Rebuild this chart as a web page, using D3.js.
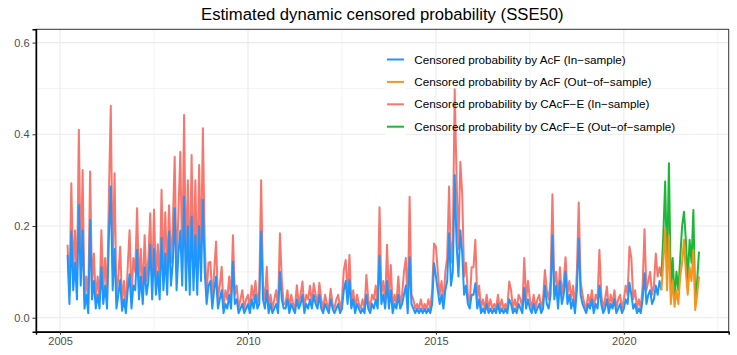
<!DOCTYPE html>
<html>
<head>
<meta charset="utf-8">
<script src="https://cdn.jsdelivr.net/npm/d3@7"></script>
<style>
  body { margin: 0; background: #fff; }
  text { font-family: "Liberation Sans", Arial, sans-serif; }
</style>
</head>
<body>
<svg id="chart" width="737" height="355"></svg>
<script>
// in-sample: 2005.20 .. 2021.00, one value every 0.05 year (one row per year)
const inStart = 2005.2;
const outStart = 2021.0;
const step = 0.05;

const acfIn = [
  0.137, 0.03, 0.188, 0.06, 0.12, 0.04, 0.246, 0.07, 0.19, 0.02, 0.05, 0.01, 0.213, 0.04, 0.08, 0.02,
  0.05, 0.02, 0.11, 0.03, 0.07, 0.02, 0.177, 0.286, 0.06, 0.15, 0.02, 0.05, 0.082, 0.015, 0.04, 0.01, 0.06, 0.095, 0.02, 0.07,
  0.06, 0.148, 0.04, 0.09, 0.03, 0.11, 0.05, 0.08, 0.159, 0.04, 0.15, 0.05, 0.10, 0.04, 0.174, 0.06, 0.14, 0.05, 0.188, 0.07,
  0.12, 0.239, 0.06, 0.14, 0.19, 0.07, 0.264, 0.06, 0.20, 0.05, 0.22, 0.06, 0.18, 0.05, 0.20, 0.08, 0.257, 0.10, 0.03, 0.07,
  0.08, 0.02, 0.06, 0.09, 0.02, 0.04, 0.06, 0.01, 0.03, 0.02, 0.05, 0.02, 0.122, 0.03, 0.04, 0.01, 0.02, 0.03, 0.01, 0.02,
  0.03, 0.01, 0.04, 0.02, 0.05, 0.02, 0.03, 0.188, 0.04, 0.02, 0.06, 0.01, 0.03, 0.01, 0.02, 0.03, 0.01, 0.10, 0.04, 0.02,
  0.02, 0.04, 0.01, 0.03, 0.02, 0.01, 0.04, 0.02, 0.03, 0.05, 0.01, 0.03, 0.02, 0.04, 0.02, 0.05, 0.03, 0.02, 0.05, 0.02,
  0.01, 0.03, 0.02, 0.01, 0.04, 0.02, 0.01, 0.02, 0.03, 0.01, 0.02, 0.06, 0.08, 0.03, 0.082, 0.02, 0.04, 0.01, 0.03, 0.02,
  0.01, 0.02, 0.01, 0.05, 0.02, 0.01, 0.03, 0.02, 0.04, 0.02, 0.135, 0.03, 0.05, 0.02, 0.08, 0.02, 0.06, 0.01, 0.03, 0.02,
  0.05, 0.02, 0.03, 0.05, 0.07, 0.01, 0.132, 0.03, 0.02, 0.01, 0.02, 0.01, 0.02, 0.01, 0.02, 0.01, 0.02, 0.01, 0.03, 0.119,
  0.09, 0.06, 0.03, 0.05, 0.02, 0.06, 0.08, 0.184, 0.07, 0.10, 0.311, 0.16, 0.09, 0.191, 0.14, 0.05, 0.07, 0.03, 0.02, 0.05,
  0.05, 0.075, 0.02, 0.04, 0.01, 0.02, 0.01, 0.03, 0.01, 0.02, 0.01, 0.02, 0.01, 0.03, 0.01, 0.02, 0.01, 0.02, 0.01, 0.04,
  0.03, 0.01, 0.02, 0.01, 0.03, 0.02, 0.01, 0.065, 0.02, 0.04, 0.02, 0.01, 0.03, 0.01, 0.02, 0.03, 0.01, 0.02, 0.07, 0.03,
  0.02, 0.05, 0.18, 0.04, 0.07, 0.02, 0.08, 0.03, 0.05, 0.10, 0.03, 0.05, 0.02, 0.04, 0.01, 0.06, 0.173, 0.05, 0.03, 0.02,
  0.01, 0.03, 0.02, 0.04, 0.01, 0.03, 0.02, 0.07, 0.03, 0.01, 0.02, 0.04, 0.01, 0.03, 0.02, 0.04, 0.01, 0.02, 0.03, 0.01,
  0.02, 0.04, 0.03, 0.076, 0.05, 0.02, 0.03, 0.01, 0.02, 0.01, 0.04, 0.097, 0.03, 0.05, 0.06, 0.03, 0.04, 0.07, 0.05, 0.08,
  0.06
];

const cacfeIn = [
  0.159, 0.05, 0.293, 0.10, 0.19, 0.07, 0.41, 0.11, 0.322, 0.04, 0.09, 0.03, 0.319, 0.07, 0.14, 0.04,
  0.09, 0.04, 0.191, 0.06, 0.13, 0.04, 0.268, 0.462, 0.11, 0.315, 0.04, 0.09, 0.155, 0.03, 0.08, 0.02, 0.11, 0.191, 0.04, 0.13,
  0.10, 0.239, 0.07, 0.15, 0.05, 0.18, 0.08, 0.13, 0.228, 0.07, 0.236, 0.08, 0.16, 0.07, 0.279, 0.10, 0.23, 0.09, 0.245, 0.12,
  0.20, 0.351, 0.10, 0.23, 0.362, 0.11, 0.442, 0.10, 0.30, 0.08, 0.355, 0.10, 0.30, 0.08, 0.333, 0.13, 0.413, 0.16, 0.05, 0.12,
  0.122, 0.04, 0.10, 0.166, 0.04, 0.07, 0.111, 0.02, 0.06, 0.04, 0.09, 0.04, 0.18, 0.05, 0.07, 0.02, 0.04, 0.06, 0.02, 0.04,
  0.05, 0.02, 0.07, 0.04, 0.08, 0.03, 0.06, 0.30, 0.07, 0.04, 0.111, 0.02, 0.05, 0.02, 0.04, 0.06, 0.02, 0.184, 0.08, 0.03,
  0.03, 0.06, 0.02, 0.05, 0.03, 0.02, 0.071, 0.03, 0.05, 0.079, 0.02, 0.05, 0.04, 0.07, 0.03, 0.075, 0.05, 0.03, 0.076, 0.04,
  0.02, 0.05, 0.03, 0.02, 0.063, 0.03, 0.02, 0.04, 0.05, 0.02, 0.04, 0.104, 0.126, 0.05, 0.137, 0.03, 0.06, 0.02, 0.05, 0.03,
  0.02, 0.04, 0.02, 0.093, 0.04, 0.02, 0.05, 0.04, 0.07, 0.03, 0.241, 0.05, 0.08, 0.03, 0.159, 0.04, 0.115, 0.02, 0.05, 0.03,
  0.09, 0.03, 0.05, 0.10, 0.13, 0.02, 0.264, 0.05, 0.04, 0.02, 0.03, 0.02, 0.04, 0.02, 0.03, 0.02, 0.04, 0.02, 0.06, 0.162,
  0.155, 0.10, 0.05, 0.08, 0.03, 0.10, 0.13, 0.286, 0.12, 0.17, 0.498, 0.304, 0.15, 0.34, 0.27, 0.09, 0.12, 0.05, 0.03, 0.11,
  0.11, 0.17, 0.04, 0.07, 0.02, 0.04, 0.02, 0.05, 0.02, 0.04, 0.02, 0.03, 0.02, 0.05, 0.02, 0.04, 0.02, 0.03, 0.02, 0.079,
  0.06, 0.02, 0.04, 0.02, 0.05, 0.04, 0.02, 0.13, 0.04, 0.08, 0.04, 0.02, 0.05, 0.02, 0.04, 0.05, 0.02, 0.04, 0.104, 0.06,
  0.04, 0.08, 0.269, 0.07, 0.10, 0.04, 0.11, 0.05, 0.08, 0.132, 0.05, 0.08, 0.04, 0.07, 0.02, 0.10, 0.251, 0.08, 0.05, 0.03,
  0.02, 0.05, 0.03, 0.06, 0.02, 0.05, 0.04, 0.148, 0.05, 0.02, 0.04, 0.068, 0.02, 0.05, 0.03, 0.06, 0.02, 0.04, 0.05, 0.02,
  0.04, 0.07, 0.05, 0.155, 0.13, 0.04, 0.06, 0.02, 0.04, 0.02, 0.07, 0.193, 0.06, 0.08, 0.10, 0.05, 0.07, 0.14, 0.09, 0.11,
  0.09
];

// out-of-sample: 2021.00 .. 2022.00
const acfOut = [0.06, 0.12, 0.195, 0.06, 0.18, 0.03, 0.08, 0.024, 0.06, 0.03, 0.09, 0.12, 0.17, 0.10, 0.05, 0.11, 0.08, 0.148, 0.017, 0.05, 0.09];
const cacfeOut = [0.09, 0.18, 0.297, 0.10, 0.337, 0.06, 0.13, 0.04, 0.10, 0.06, 0.13, 0.20, 0.231, 0.17, 0.08, 0.17, 0.12, 0.235, 0.03, 0.08, 0.144];

const xTicks = [2005, 2010, 2015, 2020];
const xMinor = [2007.5, 2012.5, 2017.5, 2022.5];
const yTicks = [0, 0.2, 0.4, 0.6];
const yMinor = [0.1, 0.3, 0.5];

const legendLabels = [
  'Censored probability by AcF (In\u2212sample)',
  'Censored probability by AcF (Out\u2212of\u2212sample)',
  'Censored probability by CAcF\u2212E (In\u2212sample)',
  'Censored probability by CAcF\u2212E (Out\u2212of\u2212sample)'
];
const colors = ['#1E96FF', '#F7941D', '#F8766D', '#1DB737'];

const panel = { left: 36, right: 728.7, top: 29.3, bottom: 331.7 };
const lw = 2;

const svg = d3.select('#chart');

const x = d3.scaleLinear().domain([2004.36, 2022.79]).range([panel.left, panel.right]);
const y = d3.scaleLinear().domain([-0.0305, 0.629]).range([panel.bottom, panel.top]);

// grid
const grid = svg.append('g');
grid.selectAll('.xm').data(xMinor.filter(d => x(d) < panel.right)).enter().append('line')
  .attr('x1', d => x(d)).attr('x2', d => x(d))
  .attr('y1', panel.top).attr('y2', panel.bottom)
  .attr('stroke', '#EBEBEB').attr('stroke-width', 0.6);
grid.selectAll('.ym').data(yMinor).enter().append('line')
  .attr('x1', panel.left).attr('x2', panel.right)
  .attr('y1', d => y(d)).attr('y2', d => y(d))
  .attr('stroke', '#EBEBEB').attr('stroke-width', 0.6);
grid.selectAll('.xM').data(xTicks).enter().append('line')
  .attr('x1', d => x(d)).attr('x2', d => x(d))
  .attr('y1', panel.top).attr('y2', panel.bottom)
  .attr('stroke', '#EBEBEB').attr('stroke-width', 1.1);
grid.selectAll('.yM').data(yTicks).enter().append('line')
  .attr('x1', panel.left).attr('x2', panel.right)
  .attr('y1', d => y(d)).attr('y2', d => y(d))
  .attr('stroke', '#EBEBEB').attr('stroke-width', 1.1);

const line = d3.line()
  .x(d => x(d.t))
  .y(d => y(d.v));

const toPoints = (arr, start) => arr.map((v, i) => ({ t: start + i * step, v: v }));

const lines = svg.append('g');
// CAcF-E behind, AcF on top
lines.append('path').datum(toPoints(cacfeIn, inStart))
  .attr('d', line).attr('fill', 'none').attr('stroke', colors[2]).attr('stroke-width', lw).attr('stroke-linejoin', 'round');
lines.append('path').datum(toPoints(cacfeOut, outStart))
  .attr('d', line).attr('fill', 'none').attr('stroke', colors[3]).attr('stroke-width', lw).attr('stroke-linejoin', 'round');
lines.append('path').datum(toPoints(acfIn, inStart))
  .attr('d', line).attr('fill', 'none').attr('stroke', colors[0]).attr('stroke-width', lw).attr('stroke-linejoin', 'round');
lines.append('path').datum(toPoints(acfOut, outStart))
  .attr('d', line).attr('fill', 'none').attr('stroke', colors[1]).attr('stroke-width', lw).attr('stroke-linejoin', 'round');

// panel border + axis lines
svg.append('rect')
  .attr('x', panel.left).attr('y', panel.top)
  .attr('width', panel.right - panel.left).attr('height', panel.bottom - panel.top)
  .attr('fill', 'none').attr('stroke', '#333').attr('stroke-width', 1);

const xAxis = d3.axisBottom(x).tickValues(xTicks).tickFormat(d3.format('d')).tickSize(3).tickPadding(3);
const yAxis = d3.axisLeft(y).tickValues(yTicks).tickFormat(d3.format('.1f')).tickSize(3.5).tickPadding(3);

const gx = svg.append('g').attr('transform', `translate(0,${panel.bottom})`).call(xAxis);
const gy = svg.append('g').attr('transform', `translate(${panel.left},0)`).call(yAxis);
[gx, gy].forEach(g => {
  g.select('.domain').attr('stroke', '#000').attr('stroke-width', 1.4);
  g.selectAll('.tick line').attr('stroke', '#333');
  g.selectAll('.tick text').attr('fill', '#4D4D4D').style('font-size', '11px')
    .style('font-family', '"Liberation Sans", Arial, sans-serif');
});

// legend (transparent, white key boxes)
const legend = svg.append('g').attr('transform', 'translate(385,48.5)');
const rows = legend.selectAll('g').data(legendLabels).enter().append('g')
  .attr('transform', (d, i) => `translate(0,${i * 22.4})`);
rows.append('rect').attr('width', 21).attr('height', 22).attr('fill', '#fff');
rows.append('line').attr('x1', 2).attr('x2', 19).attr('y1', 11).attr('y2', 11)
  .attr('stroke', (d, i) => colors[i]).attr('stroke-width', lw);
rows.append('text').attr('x', 29.3).attr('y', 15).text(d => d)
  .attr('fill', '#000').style('font-size', '11.7px');

// title
svg.append('text')
  .attr('x', (panel.left + panel.right) / 2).attr('y', 20)
  .attr('text-anchor', 'middle')
  .style('font-size', '16.7px')
  .attr('fill', '#000')
  .text('Estimated dynamic censored probability (SSE50)');
</script>
</body>
</html>
